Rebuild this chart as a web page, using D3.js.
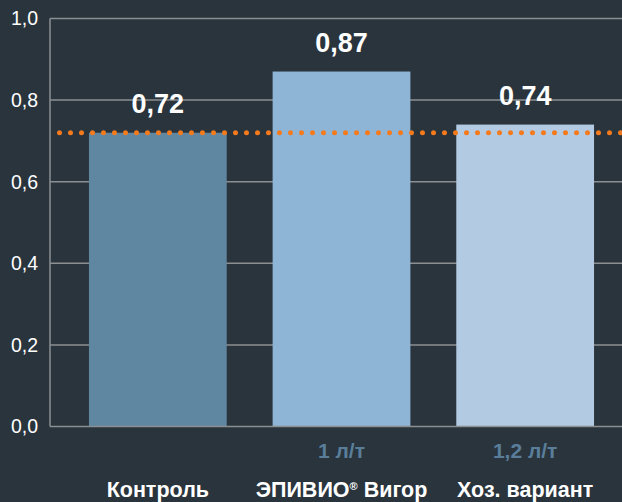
<!DOCTYPE html>
<html>
<head>
<meta charset="utf-8">
<script src="https://cdn.jsdelivr.net/npm/d3@7"></script>
<style>
  html, body { margin: 0; padding: 0; background: #29343d; }
  svg { display: block; }
</style>
</head>
<body>
<svg id="chart" width="622" height="502"></svg>
<script>
const categories = ["Контроль", "ЭПИВИО® Вигор", "Хоз. вариант"];
const doses = ["", "1 л/т", "1,2 л/т"];
const values = [0.72, 0.87, 0.74];
const valueLabels = ["0,72", "0,87", "0,74"];
const referenceValue = 0.72;
const yTicks = [0, 0.2, 0.4, 0.6, 0.8, 1.0];
const yTickLabels = ["0,0", "0,2", "0,4", "0,6", "0,8", "1,0"];
const barColors = ["#5f87a2", "#8fb5d6", "#b3cbe2"];

const W = 622, H = 502;
const svg = d3.select("#chart");
svg.append("rect").attr("width", W).attr("height", H).attr("fill", "#29343d");

const font = "'Liberation Sans', Arial, Helvetica, sans-serif";
const x0 = 50, yBottom = 426.5, yTop = 18.5;

const y = d3.scaleLinear().domain([0, 1]).range([yBottom, yTop]);
const x = d3.scaleBand().domain(categories).range([66, 617]).paddingInner(0.25).paddingOuter(0.125);

// gridlines
svg.append("g").selectAll("line").data(yTicks.filter(d => d > 0)).join("line")
  .attr("x1", x0).attr("x2", W)
  .attr("y1", d => y(d)).attr("y2", d => y(d))
  .attr("stroke", "#8c8f92").attr("stroke-width", 1.5);

// y tick labels
svg.append("g").selectAll("text").data(yTicks).join("text")
  .attr("x", 38).attr("y", d => y(d))
  .attr("dy", "0.35em")
  .attr("text-anchor", "end")
  .attr("fill", "#ffffff")
  .attr("font-family", font).attr("font-size", 19.5)
  .text((d, i) => yTickLabels[i]);

// bars
svg.append("g").selectAll("rect").data(values).join("rect")
  .attr("x", (d, i) => x(categories[i]))
  .attr("width", x.bandwidth())
  .attr("y", d => y(d))
  .attr("height", d => y(0) - y(d))
  .attr("fill", (d, i) => barColors[i]);

// axes lines
svg.append("line").attr("x1", x0).attr("x2", x0).attr("y1", yTop).attr("y2", yBottom)
  .attr("stroke", "#8c8f92").attr("stroke-width", 1.5);
svg.append("line").attr("x1", x0).attr("x2", W).attr("y1", yBottom).attr("y2", yBottom)
  .attr("stroke", "#8c8f92").attr("stroke-width", 1.5);

// reference dotted line
svg.append("line")
  .attr("x1", 59.5).attr("x2", W + 5)
  .attr("y1", y(referenceValue)).attr("y2", y(referenceValue))
  .attr("stroke", "#f47a1c").attr("stroke-width", 5)
  .attr("stroke-linecap", "round")
  .attr("stroke-dasharray", "0,11");

// value labels
svg.append("g").selectAll("text").data(values).join("text")
  .attr("x", (d, i) => x(categories[i]) + x.bandwidth() / 2)
  .attr("y", d => y(d) - 20)
  .attr("text-anchor", "middle")
  .attr("fill", "#ffffff")
  .attr("font-family", font).attr("font-size", 27).attr("font-weight", "bold")
  .text((d, i) => valueLabels[i]);

// dose labels
svg.append("g").selectAll("text").data(doses).join("text")
  .attr("x", (d, i) => x(categories[i]) + x.bandwidth() / 2)
  .attr("y", 458)
  .attr("text-anchor", "middle")
  .attr("fill", "#5a7e9a")
  .attr("font-family", font).attr("font-size", 21).attr("font-weight", "bold")
  .text(d => d);

// category labels
const cat = svg.append("g").selectAll("text").data(categories).join("text")
  .attr("x", (d, i) => x(d) + x.bandwidth() / 2)
  .attr("y", 497)
  .attr("text-anchor", "middle")
  .attr("fill", "#ffffff")
  .attr("font-family", font).attr("font-size", 21.5).attr("font-weight", "bold");
cat.each(function(d) {
  const t = d3.select(this);
  if (d.includes("®")) {
    const parts = d.split("®");
    t.append("tspan").text(parts[0]);
    t.append("tspan").attr("font-size", 11).attr("dy", -7).text("®");
    t.append("tspan").attr("dy", 7).text(parts[1]);
  } else {
    t.text(d);
  }
});
</script>
</body>
</html>
